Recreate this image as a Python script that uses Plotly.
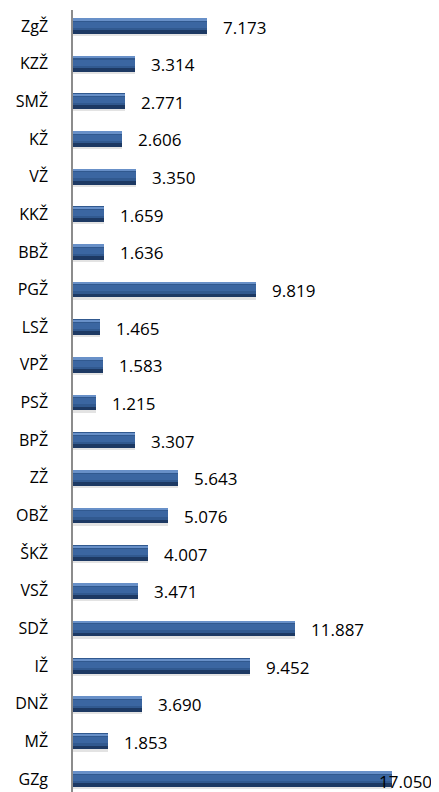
import plotly.graph_objects as go

categories = ["ZgŽ", "KZŽ", "SMŽ", "KŽ", "VŽ", "KKŽ", "BBŽ", "PGŽ", "LSŽ", "VPŽ", "PSŽ",
              "BPŽ", "ZŽ", "OBŽ", "ŠKŽ", "VSŽ", "SDŽ", "IŽ", "DNŽ", "MŽ", "GZg"]
values = [7173, 3314, 2771, 2606, 3350, 1659, 1636, 9819, 1465, 1583, 1215,
          3307, 5643, 5076, 4007, 3471, 11887, 9452, 3690, 1853, 17050]

n = len(categories)
ypos = [n - 1 - i for i in range(n)]
labels = [f"{v:,}".replace(",", ".") for v in values]

FONT = "Open Sans"
fig = go.Figure()

BW = 0.42
def layer(width, center_shift, color, opacity=1.0):
    fig.add_trace(go.Bar(
        x=values, y=ypos, orientation="h", width=width,
        offset=-width / 2 + center_shift, marker=dict(color=color, line=dict(width=0)),
        opacity=opacity, hoverinfo="skip", showlegend=False))

# shadow
layer(BW, -0.06, "#D8D8D8", 0.7)
# main body
layer(BW, 0.0, "#31598F")
# dark bottom
layer(0.10, -BW / 2 + 0.05, "#1D3963")
# mid stripe
layer(0.16, 0.03, "#3B66A1")
# top highlight
layer(0.05, BW / 2 - 0.035, "#6890C8")

annotations = []
for v, y, t in zip(values, ypos, labels):
    if v == max(values):
        annotations.append(dict(x=v, y=y, text=t, showarrow=False, xanchor="center",
                                xshift=14, yshift=-2,
                                font=dict(family=FONT, size=17, color="#000000")))
    else:
        annotations.append(dict(x=v, y=y, text=t, showarrow=False, xanchor="left",
                                xshift=14, yshift=-1,
                                font=dict(family=FONT, size=17, color="#000000")))

# page body has an 8px default margin, so the figure is 8px smaller and margins shifted
fig.update_layout(
    width=431, height=784,
    margin=dict(l=65, r=0, t=2, b=0, autoexpand=False),
    paper_bgcolor="white", plot_bgcolor="white",
    barmode="overlay",
    bargap=0,
    showlegend=False,
    annotations=annotations,
    xaxis=dict(range=[0, 19593], visible=False, showgrid=False, zeroline=False,
               automargin=False),
    yaxis=dict(range=[-0.345, 20.425], tickvals=ypos, ticktext=categories,
               showline=True, linecolor="#8C8C8C", linewidth=1.5, showgrid=False,
               zeroline=False, ticks="", ticklabelstandoff=20, automargin=False,
               tickfont=dict(family=FONT, size=16, color="#000000")),
)

fig.write_html("out.html")
